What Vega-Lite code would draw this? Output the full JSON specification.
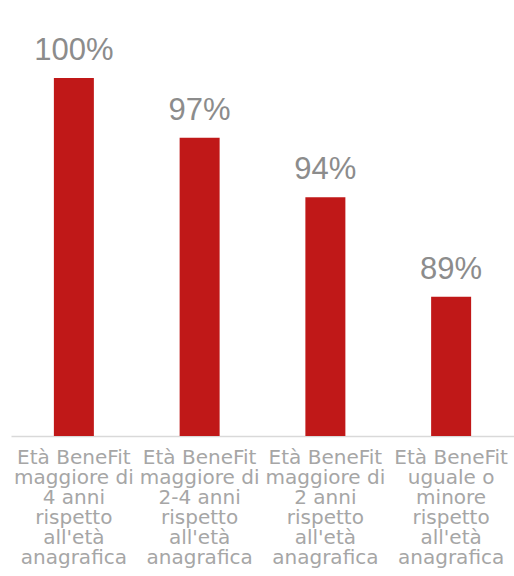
{
  "$schema": "https://vega.github.io/schema/vega-lite/v6.json",
  "autosize": "none",
  "width": 503,
  "height": 358,
  "padding": {"left": 11, "top": 78, "right": 0, "bottom": 140},
  "background": "white",
  "config": {"view": {"stroke": null}},
  "data": {"values": [
    {"cat": "Età BeneFit|maggiore di|4 anni|rispetto|all'età|anagrafica", "order": 1, "value": 100, "label": "100%"},
    {"cat": "Età BeneFit|maggiore di|2-4 anni|rispetto|all'età|anagrafica", "order": 2, "value": 97, "label": "97%"},
    {"cat": "Età BeneFit|maggiore di|2 anni|rispetto|all'età|anagrafica", "order": 3, "value": 94, "label": "94%"},
    {"cat": "Età BeneFit|uguale o|minore|rispetto|all'età|anagrafica", "order": 4, "value": 89, "label": "89%"}
  ]},
  "encoding": {
    "x": {"field": "cat", "type": "nominal", "sort": {"field": "order"},
      "scale": {"paddingInner": 0, "paddingOuter": 0},
      "axis": {"title": null, "labelAngle": 0, "labelExpr": "split(datum.label, '|')",
        "labelFont": "DejaVu Sans", "labelFontSize": 20, "labelColor": "#a6a6a6", "labelLineHeight": 20,
        "labelLimit": 0, "labelOverlap": false, "labelBound": false, "labelPadding": 11,
        "ticks": false, "domainColor": "#d9d9d9", "domainWidth": 1.5, "labelBaseline": "top"}},
    "y": {"field": "value", "type": "quantitative", "scale": {"domain": [82, 100], "zero": false}, "axis": null}
  },
  "layer": [
    {"mark": {"type": "bar", "width": 40, "color": "#c01818", "clip": true}},
    {"mark": {"type": "text", "font": "Liberation Sans", "fontSize": 31, "color": "#8c8c8c", "baseline": "alphabetic", "dy": -18},
     "encoding": {"text": {"field": "label"}}}
  ]
}
